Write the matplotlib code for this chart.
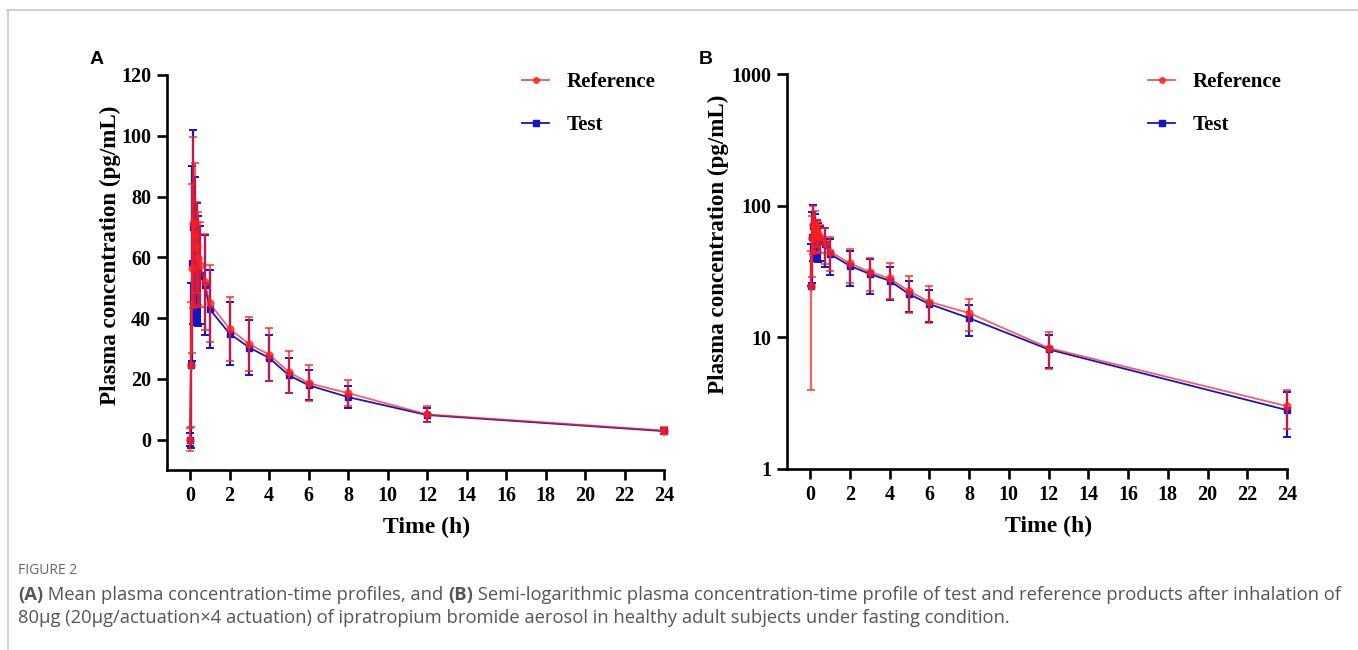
import numpy as np
import matplotlib
matplotlib.use('Agg')
import matplotlib.pyplot as plt
from matplotlib.lines import Line2D
from matplotlib.ticker import FixedLocator, NullLocator, FixedFormatter

# mean plasma concentration (pg/mL) and SD
time_h = [0, 0.05, 0.1, 0.167, 0.25, 0.333, 0.417, 0.5, 0.75, 1, 2, 3, 4, 5, 6, 8, 12, 24]
ref_mean = [0, 24.6, 56.4, 71.4, 67.4, 63.3, 59.7, 57.5, 51.8, 44.8, 36.5, 31.4, 28.0, 22.3, 18.6, 15.3, 8.3, 3.0]
ref_sd = [3.8, 20.6, 27.8, 28.2, 23.8, 15.0, 15.3, 14.0, 15.8, 12.8, 10.6, 8.8, 8.6, 6.9, 5.8, 4.2, 2.6, 1.0]
test_mean = [0, 24.4, 58.0, 69.9, 62.0, 58.0, 55.5, 54.2, 50.9, 42.9, 34.9, 30.3, 26.9, 21.2, 17.9, 14.0, 8.1, 2.8]
test_sd = [2.2, 27.0, 32.0, 32.0, 24.3, 20.0, 18.0, 16.0, 16.5, 12.9, 10.3, 9.1, 7.6, 5.7, 4.9, 3.7, 2.3, 1.05]

x_ticks = list(range(0, 25, 2))
yA_ticks = [0, 20, 40, 60, 80, 100, 120]
yB_ticks = [1, 10, 100, 1000]

RED = '#ff1f1f'
BLUE = '#1414c8'
serif = 'Liberation Serif'

fig = plt.figure(figsize=(13.58, 6.5), dpi=100)
axA = fig.add_axes([167/1358, 1-470/650, (664-167)/1358, (470-75)/650])
axB = fig.add_axes([787/1358, 1-469/650, (1287-787)/1358, (469-74)/650])


def draw(ax, logy):
    t = np.array(time_h)
    for mean, sd, col, mk, ms, al, z in [(test_mean, test_sd, BLUE, 's', 4.4, 1.0, 3),
                                         (ref_mean, ref_sd, RED, 'o', 5.0, 0.72, 4)]:
        m = np.array(mean, dtype=float)
        s = np.array(sd, dtype=float)
        lo = s.copy()
        if logy:
            keep = m > 0
            t_, m, s, lo = t[keep], m[keep], s[keep], lo[keep]
            lo = np.where(m - s <= 0, 0, lo)
        else:
            t_ = t
        ax.errorbar(t_, m, yerr=[lo, s], color=col, ecolor=col, marker=mk, ms=ms,
                    lw=1.3, elinewidth=1.6, capsize=3, capthick=1.4, alpha=al,
                    zorder=z, clip_on=False)

    for sp in ['top', 'right']:
        ax.spines[sp].set_visible(False)
    for sp in ['left', 'bottom']:
        ax.spines[sp].set_linewidth(1.9)
    ax.tick_params(width=1.9, length=7, direction='out', pad=4.5)
    ax.set_xlim(-1.165, 24)
    ax.xaxis.set_major_locator(FixedLocator(x_ticks))
    ax.set_xlabel('Time (h)', fontfamily=serif, fontweight='bold', fontsize=17)
    ax.set_ylabel('Plasma concentration (pg/mL)', fontfamily=serif,
                  fontweight='bold', fontsize=16.6)
    ax.xaxis.set_label_coords((12+1.165)/25.165, -0.118)


draw(axA, False)
axA.set_ylim(-10, 120)
axA.yaxis.set_major_locator(FixedLocator(yA_ticks))
axA.yaxis.set_label_coords(-0.0926, 0.544)

draw(axB, True)
axB.set_yscale('log')
axB.set_ylim(1, 1000)
axB.yaxis.set_major_locator(FixedLocator(yB_ticks))
axB.yaxis.set_major_formatter(FixedFormatter([str(v) for v in yB_ticks]))
axB.yaxis.set_minor_locator(NullLocator())
axB.yaxis.set_label_coords(-0.116, 0.57)

for ax in (axA, axB):
    ax.set_xticklabels([str(v) for v in x_ticks])
    for lab in ax.get_xticklabels() + ax.get_yticklabels():
        lab.set_fontfamily(serif)
        lab.set_fontweight('bold')
        lab.set_fontsize(14.5)

# legends
handles = [Line2D([], [], color=RED, marker='o', ms=4, lw=1.3, alpha=0.8),
           Line2D([], [], color=BLUE, marker='s', ms=3.8, lw=1.3)]
for x0 in (522, 1148):
    fig.legend(handles, ['Reference', 'Test'], loc='upper left',
               bbox_to_anchor=(x0/1358, 1-72/650), frameon=False, borderpad=0,
               borderaxespad=0, handlelength=1.3, handletextpad=0.85,
               labelspacing=1.1, prop={'family': serif, 'weight': 'bold', 'size': 15})

# panel letters
fig.text(90/1358, 1-59/650, 'A', fontfamily='Liberation Sans', fontweight='bold',
         fontsize=14, va='center')
fig.text(699/1358, 1-59/650, 'B', fontfamily='Liberation Sans', fontweight='bold',
         fontsize=14, va='center')

# frame lines
fig.add_artist(Line2D([7/1358, 1], [1-10/650, 1-10/650], color='#c8c8c8', lw=1.2))
fig.add_artist(Line2D([8/1358, 8/1358], [0, 1-10/650], color='#c8c8c8', lw=1.2))

# caption
cap = 'Open Sans'
fig.text(18/1358, 1-570/650, 'FIGURE 2', fontfamily=cap, fontsize=10, color='#666666',
         va='center')


def chain(pieces, x, y):
    prev = fig.text(x, y, pieces[0][0], fontfamily=cap, fontsize=13.25, color='#555555',
                    fontweight='bold' if pieces[0][1] else 'normal', va='bottom')
    for s, b in pieces[1:]:
        prev = axA.annotate(s, xy=(1, 0), xycoords=prev, va='bottom', ha='left',
                            fontfamily=cap, fontsize=13.25, color='#555555',
                            fontweight='bold' if b else 'normal')


chain([('(A)', True), (' Mean plasma concentration-time profiles, and ', False), ('(B)', True),
       (' Semi-logarithmic plasma concentration-time profile of test and reference products after inhalation of', False)],
      18/1358, 1-604/650)
chain([('80\u03bcg (20\u03bcg/actuation\u00d74 actuation) of ipratropium bromide aerosol in healthy adult subjects under fasting condition.', False)],
      18/1358, 1-627/650)

fig.savefig('out.png', dpi=100)
